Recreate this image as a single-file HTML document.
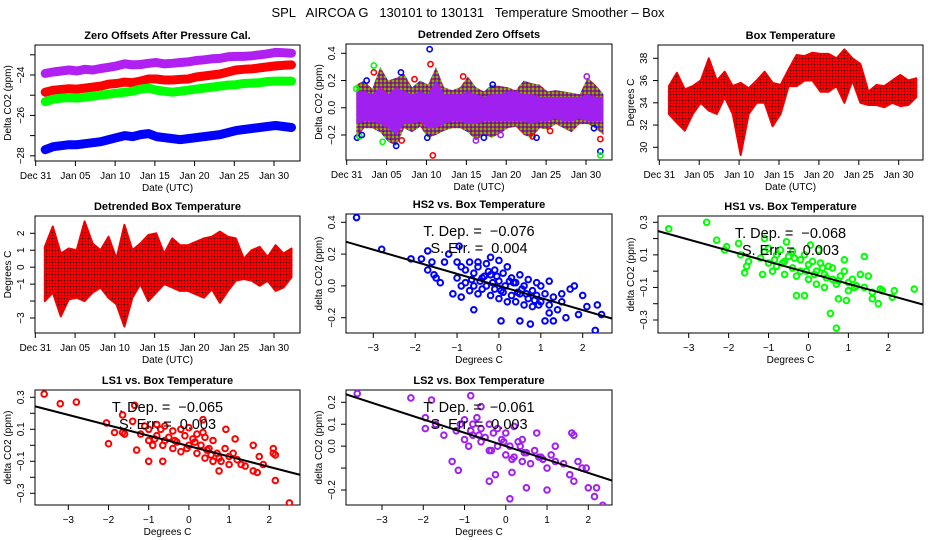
<!DOCTYPE html>
<html><head><meta charset="utf-8"><style>
html,body{margin:0;padding:0;background:#fff}
svg{display:block;font-family:"Liberation Sans",Arial,sans-serif}
</style></head><body>
<svg id="chart" width="936" height="540" viewBox="0 0 936 540" xmlns="http://www.w3.org/2000/svg">
<defs>
<pattern id="redTex" width="3" height="3" patternUnits="userSpaceOnUse"><rect width="3" height="3" fill="#f00"/><circle cx="1.5" cy="1.5" r="0.8" fill="#200"/></pattern>
<pattern id="mixTex" width="4" height="4" patternUnits="userSpaceOnUse"><rect width="4" height="4" fill="#e02020"/><rect x="0" y="0" width="2" height="2" fill="#30d030"/><rect x="2" y="2" width="2" height="2" fill="#2030e0"/></pattern>
</defs>
<rect width="936" height="540" fill="#fff"/>
<text x="468" y="17" text-anchor="middle" font-size="13" xml:space="preserve">SPL   AIRCOA G   130101 to 130131   Temperature Smoother – Box</text>
</svg>
<script>
// ---------- data ----------
const dateTicks = [0,5,10,15,20,25,30];
const dateLabels = ["Dec 31","Jan 05","Jan 10","Jan 15","Jan 20","Jan 25","Jan 30"];
const days = [1,2,3,4,5,6,7,8,9,10,11,12,13,14,15,16,17,18,19,20,21,22,23,24,25,26,27,28,29,30,31,32];
const zeroPurple = [-23.92,-23.85,-23.8,-23.75,-23.8,-23.72,-23.75,-23.68,-23.62,-23.55,-23.45,-23.5,-23.48,-23.42,-23.38,-23.45,-23.42,-23.38,-23.35,-23.28,-23.25,-23.2,-23.18,-23.1,-23.08,-23.08,-23.05,-23.0,-22.95,-22.88,-22.9,-22.92];
const zeroRed = [-24.85,-24.75,-24.72,-24.68,-24.7,-24.65,-24.6,-24.55,-24.45,-24.42,-24.35,-24.38,-24.3,-24.2,-24.2,-24.25,-24.25,-24.22,-24.2,-24.1,-24.05,-24.0,-23.95,-23.85,-23.75,-23.72,-23.7,-23.65,-23.6,-23.55,-23.52,-23.5];
const zeroGreen = [-25.32,-25.2,-25.15,-25.12,-25.15,-25.1,-25.05,-25.0,-24.95,-24.9,-24.85,-24.8,-24.7,-24.65,-24.75,-24.8,-24.85,-24.8,-24.75,-24.7,-24.65,-24.6,-24.55,-24.5,-24.48,-24.42,-24.4,-24.38,-24.32,-24.3,-24.3,-24.3];
const zeroBlue = [-27.7,-27.55,-27.5,-27.45,-27.45,-27.4,-27.35,-27.3,-27.2,-27.1,-27.0,-27.05,-26.95,-26.9,-27.05,-27.1,-27.15,-27.2,-27.15,-27.1,-27.05,-27.0,-26.95,-26.85,-26.75,-26.7,-26.65,-26.6,-26.55,-26.5,-26.55,-26.6];
const detAllHi = [0.17,0.2,0.14,0.3,0.2,0.22,0.25,0.15,0.2,0.17,0.3,0.15,0.13,0.15,0.23,0.15,0.12,0.17,0.16,0.15,0.13,0.2,0.18,0.17,0.12,0.13,0.12,0.11,0.1,0.22,0.17,0.1];
const detAllLo = [-0.22,-0.15,-0.15,-0.18,-0.25,-0.28,-0.15,-0.18,-0.14,-0.22,-0.2,-0.17,-0.15,-0.15,-0.18,-0.24,-0.2,-0.22,-0.19,-0.15,-0.14,-0.2,-0.22,-0.15,-0.16,-0.12,-0.15,-0.18,-0.12,-0.12,-0.15,-0.2];
const detPurpleHi = [0.12,0.12,0.1,0.15,0.1,0.15,0.12,0.1,0.12,0.1,0.2,0.1,0.1,0.1,0.12,0.1,0.08,0.1,0.1,0.12,0.12,0.1,0.1,0.08,0.08,0.08,0.08,0.08,0.08,0.1,0.08,0.08];
const detPurpleLo = [-0.12,-0.1,-0.1,-0.12,-0.15,-0.2,-0.12,-0.12,-0.1,-0.15,-0.15,-0.12,-0.1,-0.1,-0.12,-0.12,-0.1,-0.1,-0.1,-0.1,-0.1,-0.1,-0.12,-0.1,-0.1,-0.08,-0.1,-0.1,-0.08,-0.1,-0.1,-0.1];
const detOutDay = [10.4,10.5,3.4,3.4,6.8,1.3,1.6,1.9,4.5,6.9,6.2,10.8,10.1,17.2,16.2,23.3,23.8,30.1,31,31.8,31.8,31.8,14.6,18.3,19.3,25.5,1.2,2.5,8.5];
const detOutVal = [0.43,0.32,0.31,0.26,0.26,-0.22,-0.21,-0.2,-0.25,-0.24,-0.28,-0.35,-0.22,-0.22,-0.24,-0.21,-0.22,0.23,-0.15,-0.23,-0.32,-0.35,0.23,0.17,-0.2,-0.17,0.14,0.2,0.21];
const detOutCol = ["b","r","g","r","b","b","g","b","g","r","b","r","b","b","p","r","b","p","b","r","b","g","r","b","p","r","g","b","r"];
const boxLo = [33,32.2,31.5,33,34,33.3,33,34.5,33,29.3,33,34,34,31.9,33,35.5,35.5,36,36,35,35,35.5,34,36,34,33.8,33.8,33.6,34,33.7,33.8,34.5];
const boxHi = [35.5,36.7,35.2,35.5,36,38,36,36.8,35.5,35.8,35.3,36,36.8,35.8,35.6,37,38.3,38.2,38.5,38.4,38.4,38,38.8,38,37.5,35,35.6,35.5,36,36.5,36,36.2];
const dtbLo = [-2,-1.5,-2.9,-1.9,-1.8,-2,-1.5,-1.2,-1.8,-2.2,-3.5,-1.8,-1,-2,-1.5,-1,-1.2,-1.4,-1.4,-1.6,-1.8,-1.3,-2.1,-1.4,-0.8,-0.7,-0.8,-1.1,-0.8,-1.4,-1.2,-0.6];
const dtbHi = [1.2,2.4,0.8,1.1,1,2.7,1.4,1,1.8,0.5,2.5,1,1.4,1.9,2,0.8,1.7,1.3,1.3,1.5,1.7,1.8,2.1,1.8,1.7,0.5,1,1.2,0.6,1.3,0.8,1.1];
const tempTicks = [-3,-2,-1,0,1,2];
const tempLabels = ["−3","−2","−1","0","1","2"];
const hs2X = [-3.4,-2.8,-2.1,-1.85,-1.7,-1.6,-1.7,-1.55,-1.5,-1.4,-1.1,-0.9,-0.6,-0.95,0.05,0.5,0.75,0.6,1.1,1.3,2.3,2.45,2.35,2.0,2.1,1.8,1.7,1.9,1.6,1.5,1.2,1.2,-1.2,-1.3,-0.2,-0.5,0.9,
 -1,-1,-0.9,-0.9,-0.8,-0.8,-0.7,-0.7,-0.6,-0.6,-0.5,-0.5,-0.4,-0.4,-0.3,-0.3,-0.2,-0.2,-0.1,-0.1,0,0,0,0.1,0.1,0.2,0.2,0.3,0.3,0.4,0.4,0.5,0.5,0.6,0.6,0.7,0.7,0.8,0.8,0.9,1.0,1.0,1.1,1.2,1.3,1.4,1.5,-0.05,0.15,0.35,-0.35,0.55,0.25,-0.15,0.05,0.45,0.65,-0.45,-0.25,-0.65,0.85,0.95];
const hs2Y = [0.43,0.23,0.17,0.17,0.22,0.15,0.1,0.07,0.05,0.02,-0.05,-0.07,-0.15,0.25,-0.22,-0.22,-0.24,-0.32,-0.22,-0.22,-0.28,-0.18,-0.12,-0.06,-0.13,0.0,-0.02,-0.18,-0.2,-0.1,-0.17,0.03,0.2,0.15,0.18,0.15,0.02,
 0.15,0.05,0.12,0.0,0.1,0.02,0.15,-0.03,0.08,0.0,0.12,-0.05,0.05,-0.02,0.14,0.0,0.07,-0.06,0.1,-0.02,0.16,0.03,-0.08,0.08,-0.04,0.12,-0.1,0.05,-0.06,0.02,-0.1,0.07,-0.05,0.0,-0.12,0.04,-0.08,-0.03,-0.13,-0.06,0.0,-0.1,-0.05,-0.12,-0.07,-0.15,-0.05,0.06,0.0,0.02,0.06,-0.02,0.03,0.02,-0.03,-0.04,-0.05,0.03,0.09,0.04,-0.09,-0.12];
const hs1X = [-3.5,-2.55,-2.3,-2.05,-2.1,-1.75,-1.7,-1.55,-1.6,-1.5,-1.15,-0.3,-0.1,0.55,0.7,0.75,0.95,1.4,1.75,1.6,1.8,1.85,2.1,2.15,2.65,1.3,1.5,-1.1,-0.55,0.05,0.25,0.9,
 -1.2,-1.1,-1,-1,-0.9,-0.8,-0.8,-0.7,-0.6,-0.6,-0.5,-0.4,-0.4,-0.3,-0.2,-0.2,-0.1,0,0,0.1,0.2,0.2,0.3,0.4,0.4,0.5,0.6,0.6,0.7,0.8,0.9,1.0,1.0,1.1,1.2,1.4,1.6,-0.65,-0.35,-0.05,0.15,0.45,0.75,1.15,-0.85,0.35];
const hs1Y = [0.26,0.3,0.19,0.15,0.13,0.17,0.1,0.03,-0.01,0.06,-0.02,-0.15,-0.15,-0.26,-0.35,-0.17,-0.18,0.09,-0.2,-0.17,-0.11,-0.12,-0.16,-0.12,-0.11,-0.02,-0.03,0.2,0.18,0.16,0.13,0.07,
 0.08,0.12,0.05,0.14,0.0,0.1,0.03,0.13,0.06,-0.02,0.09,0.02,0.12,-0.03,0.07,0.0,0.1,0.04,-0.05,0.06,0.0,-0.08,0.05,-0.02,-0.1,0.03,-0.05,0.02,-0.08,-0.03,0.0,-0.07,-0.12,-0.05,-0.09,-0.1,-0.13,0.05,0.08,0.0,-0.02,-0.04,-0.06,-0.1,0.07,0.02];
const ls1X = [-3.6,-3.2,-2.8,-2.05,-2.0,-1.85,-1.65,-1.65,-1.6,-1.35,-1.4,-1.3,-1.0,-0.65,0.35,0.75,0.92,1.15,1.6,1.6,1.7,1.85,1.75,2.1,2.15,2.1,2.15,2.5,1.4,
 -1.2,-1.1,-1,-1,-0.9,-0.8,-0.8,-0.7,-0.6,-0.6,-0.5,-0.4,-0.4,-0.3,-0.2,-0.2,-0.1,0,0,0.1,0.2,0.2,0.3,0.4,0.4,0.5,0.6,0.6,0.7,0.8,0.9,1.0,1.0,1.1,1.2,1.3,-0.65,-0.35,-0.05,0.15,0.45,0.75,-0.85,0.35,0.55];
const ls1Y = [0.32,0.26,0.27,0.14,0.01,0.08,0.08,0.19,0.07,0.25,0.15,-0.03,-0.1,-0.1,0.16,-0.16,0.1,0.04,0.0,-0.16,-0.17,-0.12,-0.07,-0.05,-0.06,-0.02,-0.22,-0.36,-0.13,
 0.07,0.12,0.03,0.1,0.0,0.13,0.06,0.1,0.03,0.12,0.05,-0.02,0.09,0.02,0.1,-0.04,0.06,0.0,0.11,0.04,-0.05,0.07,0.0,-0.08,0.05,-0.02,-0.1,0.03,-0.05,-0.1,-0.02,-0.07,-0.12,-0.05,-0.09,-0.12,0.0,0.03,-0.02,0.02,-0.03,-0.08,0.04,0.08,-0.06];
const ls2X = [-3.6,-2.3,-1.95,-1.95,-1.8,-1.7,-1.5,-1.3,-1.15,-0.85,-0.6,-0.4,-0.25,0.1,0.15,0.5,0.75,0.85,1.0,1.2,1.55,1.6,1.65,1.65,1.75,1.85,1.95,2.0,2.2,2.15,2.35,1.4,
 -1.2,-1.1,-1,-1,-0.9,-0.8,-0.8,-0.7,-0.6,-0.6,-0.5,-0.4,-0.4,-0.3,-0.2,-0.2,-0.1,0,0,0.1,0.2,0.2,0.3,0.4,0.4,0.5,0.6,0.7,0.8,0.9,1.0,1.1,-0.65,-0.35,-0.05,0.15,0.45,-0.85,0.35,1.2];
const ls2Y = [0.24,0.22,0.13,0.08,0.21,0.1,0.05,-0.07,-0.11,0.23,0.18,-0.16,-0.13,-0.24,-0.12,-0.19,0.06,-0.05,-0.2,0.0,-0.13,0.06,0.05,-0.16,-0.07,-0.1,-0.1,-0.19,-0.19,-0.23,-0.27,-0.08,
 0.07,0.1,0.03,0.12,0.0,0.1,0.05,0.13,0.02,0.08,0.04,-0.02,0.1,0.06,0.0,0.08,0.03,-0.04,0.06,0.0,0.09,-0.05,0.02,-0.07,0.03,-0.03,-0.08,-0.02,-0.05,-0.06,-0.1,-0.04,0.05,-0.02,0.02,-0.06,-0.03,0.07,0.0,-0.07];
const slopes = [-0.076,-0.068,-0.065,-0.061];
const intercepts = [0.0,-0.01,-0.005,0.0];
const slopeLabels = ["−0.076","−0.068","−0.065","−0.061"];
const errLabels = ["0.004","0.003","0.003","0.003"];

// ---------- helpers ----------
const NS = "http://www.w3.org/2000/svg";
const svg = document.getElementById('chart');
function mk(tag, attrs, parent){
  const e = document.createElementNS(NS, tag);
  for (const k in attrs) e.setAttribute(k, attrs[k]);
  (parent || svg).appendChild(e);
  return e;
}
function scale(v0, p0, v1, p1){ return v => p0 + (v - v0) * (p1 - p0) / (v1 - v0); }
const COL = {r:"#ff0000", g:"#00ff00", b:"#0000ff", p:"#a020f0"};
let clipN = 0;

function axes(p){
  const g = mk('g', {});
  
  
  const [x0, y0, x1, y1] = p.box;
  const box = mk('rect', {x:x0, y:y0, width:x1-x0, height:y1-y0, fill:'none', stroke:'#000', 'stroke-width':1}, g);
  
  
  const xa = mk('line', {x1:p.sx(p.xt[0]), x2:p.sx(p.xt[p.xt.length-1]), y1:y1, y2:y1, stroke:'#000'}, g);
  
  
  p.xt.forEach((v, i) => {
    const t = mk('line', {x1:p.sx(v), x2:p.sx(v), y1:y1, y2:y1+5, stroke:'#000'}, g);
    
    
    const l = mk('text', {x:p.sx(v), y:y1+18, 'font-size':10, 'text-anchor':'middle'}, g);
    
    
    l.textContent = p.xl[i];
  });
  const ya = mk('line', {x1:x0, x2:x0, y1:p.sy(p.yt[0]), y2:p.sy(p.yt[p.yt.length-1]), stroke:'#000'}, g);
  
  
  p.yt.forEach((v, i) => {
    const t = mk('line', {x1:x0-5, x2:x0, y1:p.sy(v), y2:p.sy(v), stroke:'#000'}, g);
    
    
    if (p.yl[i] !== "") {
      const yy = p.sy(v), xx = x0 - 11;
      const l = mk('text', {x:xx, y:yy, 'font-size':10, 'text-anchor':'middle', transform:`rotate(-90 ${xx} ${yy})`}, g);
      
      
      l.textContent = p.yl[i];
    }
  });
  const ti = mk('text', {x:(x0+x1)/2, y:y0-6, 'font-size':11, 'font-weight':'bold', 'text-anchor':'middle'}, g);
  
  
  ti.textContent = p.title;
  const xl = mk('text', {x:(x0+x1)/2, y:y1+30, 'font-size':10, 'text-anchor':'middle'}, g);
  
  
  xl.textContent = p.xlab;
  const yc = (y0+y1)/2, yx = x0 - 24;
  const yl = mk('text', {x:yx, y:yc, 'font-size':10, 'text-anchor':'middle', transform:`rotate(-90 ${yx} ${yc})`}, g);
  
  
  yl.textContent = p.ylab;
  clipN++;
  const cp = mk('clipPath', {id:'cp'+clipN}, svg.querySelector('defs'));
  mk('rect', {x:x0, y:y0, width:x1-x0, height:y1-y0}, cp);
  const d = mk('g', {'clip-path':`url(#cp${clipN})`}, g);
  
  
  return d;
}
function bandPoints(sx, sy, lo, hi, off){
  const top = days.map((dy,i) => `${sx(dy+off).toFixed(1)},${sy(hi[i]).toFixed(1)}`);
  const bot = days.map((dy,i) => `${sx(dy+off).toFixed(1)},${sy(lo[i]).toFixed(1)}`).reverse();
  return top.concat(bot).join(' ');
}

// ---------- panel 1 ----------
{
  const sx = scale(0, 35.7, 30, 274);
  const sy = scale(-24, 75, -28, 155.8);
  const d = axes({name:'panel-zero-offsets', box:[35,45,300,161], sx, sy, xt:dateTicks, xl:dateLabels,
    yt:[-28,-27,-26,-25,-24,-23], yl:["−28","","−26","","−24",""], title:'Zero Offsets After Pressure Cal.', xlab:'Date (UTC)', ylab:'Delta CO2 (ppm)'});
  [[zeroPurple,'#b020f0','series-ls2'],[zeroRed,'#ff0000','series-ls1'],[zeroGreen,'#00ff00','series-hs1'],[zeroBlue,'#0000ff','series-hs2']].forEach(([arr,c,n]) => {
    const pts = arr.map((v,i) => `${sx(days[i]+0.2).toFixed(1)},${sy(v).toFixed(1)}`).join(' ');
    const pl = mk('polyline', {points:pts, fill:'none', stroke:c, 'stroke-width':9, 'stroke-linejoin':'round', 'stroke-linecap':'round'}, d);
    
    
  });
}
// ---------- panel 2 ----------
{
  const sx = scale(0, 346.7, 30, 586);
  const sy = scale(0.4, 53.3, -0.2, 135);
  const d = axes({name:'panel-detrended-zero-offsets', box:[346,44,612,160], sx, sy, xt:dateTicks, xl:dateLabels,
    yt:[-0.2,0,0.2,0.4], yl:["−0.2","0.0","0.2","0.4"], title:'Detrended Zero Offsets', xlab:'Date (UTC)', ylab:'Delta CO2 (ppm)'});
  const a = mk('polygon', {points:bandPoints(sx, sy, detAllLo, detAllHi, 0.2), fill:'url(#mixTex)'}, d);
  
  
  const pb = mk('polygon', {points:bandPoints(sx, sy, detPurpleLo, detPurpleHi, 0.2), fill:'#a020f0'}, d);
  
  
  detOutDay.forEach((dy,i) => {
    const c = mk('circle', {cx:sx(dy), cy:sy(detOutVal[i]), r:2.6, fill:'none', stroke:COL[detOutCol[i]], 'stroke-width':1.6}, d);
    
    
  });
}
// ---------- panel 3 ----------
{
  const sx = scale(0, 659.3, 30, 898.7);
  const sy = scale(38, 58.3, 30, 147.3);
  const d = axes({name:'panel-box-temperature', box:[658,45,923,160], sx, sy, xt:dateTicks, xl:dateLabels,
    yt:[30,32,34,36,38], yl:["30","32","34","36","38"], title:'Box Temperature', xlab:'Date (UTC)', ylab:'Degrees C'});
  const b = mk('polygon', {points:bandPoints(sx, sy, boxLo, boxHi, 0.2), fill:'url(#redTex)', stroke:'#e00', 'stroke-width':2, 'stroke-linejoin':'round'}, d);
  
  
}
// ---------- panel 4 ----------
{
  const sx = scale(0, 35.3, 30, 274);
  const sy = scale(2, 233.3, -3, 318);
  const d = axes({name:'panel-detrended-box-temperature', box:[35,216,300,333], sx, sy, xt:dateTicks, xl:dateLabels,
    yt:[-3,-2,-1,0,1,2], yl:["−3","","−1","0","1","2"], title:'Detrended Box Temperature', xlab:'Date (UTC)', ylab:'Degrees C'});
  const b = mk('polygon', {points:bandPoints(sx, sy, dtbLo, dtbHi, 0.2), fill:'url(#redTex)', stroke:'#e00', 'stroke-width':2, 'stroke-linejoin':'round'}, d);
  
  
}
// ---------- scatter panels ----------
function scatter(cfg){
  const d = axes({name:cfg.name, box:cfg.box, sx:cfg.sx, sy:cfg.sy, xt:tempTicks, xl:tempLabels,
    yt:cfg.yt, yl:cfg.yl, title:cfg.title, xlab:'Degrees C', ylab:'delta CO2 (ppm)'});
  cfg.xs.forEach((xv,i) => {
    const c = mk('circle', {cx:cfg.sx(xv), cy:cfg.sy(cfg.ys[i]), r:2.8, fill:'none', stroke:cfg.color, 'stroke-width':2}, d);
    
    
  });
  const k = cfg.k;
  const ln = mk('line', {x1:cfg.sx(-4), y1:cfg.sy(slopes[k]*-4+intercepts[k]), x2:cfg.sx(3), y2:cfg.sy(slopes[k]*3+intercepts[k]), stroke:'#000', 'stroke-width':2}, d);
  
  
  const cx = (cfg.box[0]+cfg.box[2])/2, ty = cfg.box[1];
  const t1 = mk('text', {x:cx, y:ty+22, 'font-size':14.5, 'text-anchor':'middle'}, svg);
  
  
  t1.textContent = 'T. Dep. =\u00a0 ' + slopeLabels[k];
  const t2 = mk('text', {x:cx, y:ty+39, 'font-size':14.5, 'text-anchor':'middle'}, svg);
  
  
  t2.textContent = 'S. Err. =\u00a0 ' + errLabels[k];
}
scatter({name:'panel-hs2-vs-temp', box:[346,214,612,333], sx:scale(-3,373.3,2,582.7), sy:scale(0.4,222.3,-0.2,317.7),
  yt:[-0.2,0,0.2,0.4], yl:["−0.2","0.0","0.2","0.4"], title:'HS2 vs. Box Temperature', xs:hs2X, ys:hs2Y, color:COL.b, k:0});
scatter({name:'panel-hs1-vs-temp', box:[658,216,923,333], sx:scale(-3,688.7,2,888.3), sy:scale(0.3,222.3,-0.3,320),
  yt:[-0.3,-0.2,-0.1,0,0.1,0.2,0.3], yl:["−0.3","","−0.1","","0.1","","0.3"], title:'HS1 vs. Box Temperature', xs:hs1X, ys:hs1Y, color:COL.g, k:1});
scatter({name:'panel-ls1-vs-temp', box:[35,390,300,505], sx:scale(-3,68.3,2,269.3), sy:scale(0.3,397.3,-0.3,493.3),
  yt:[-0.3,-0.2,-0.1,0,0.1,0.2,0.3], yl:["−0.3","","−0.1","","0.1","","0.3"], title:'LS1 vs. Box Temperature', xs:ls1X, ys:ls1Y, color:COL.r, k:2});
scatter({name:'panel-ls2-vs-temp', box:[346,390,612,505], sx:scale(-3,382,2,588.3), sy:scale(0.2,402.3,-0.2,490),
  yt:[-0.2,-0.1,0,0.1,0.2], yl:["−0.2","","0.0","0.1","0.2"], title:'LS2 vs. Box Temperature', xs:ls2X, ys:ls2Y, color:COL.p, k:3});
</script>
</body></html>
